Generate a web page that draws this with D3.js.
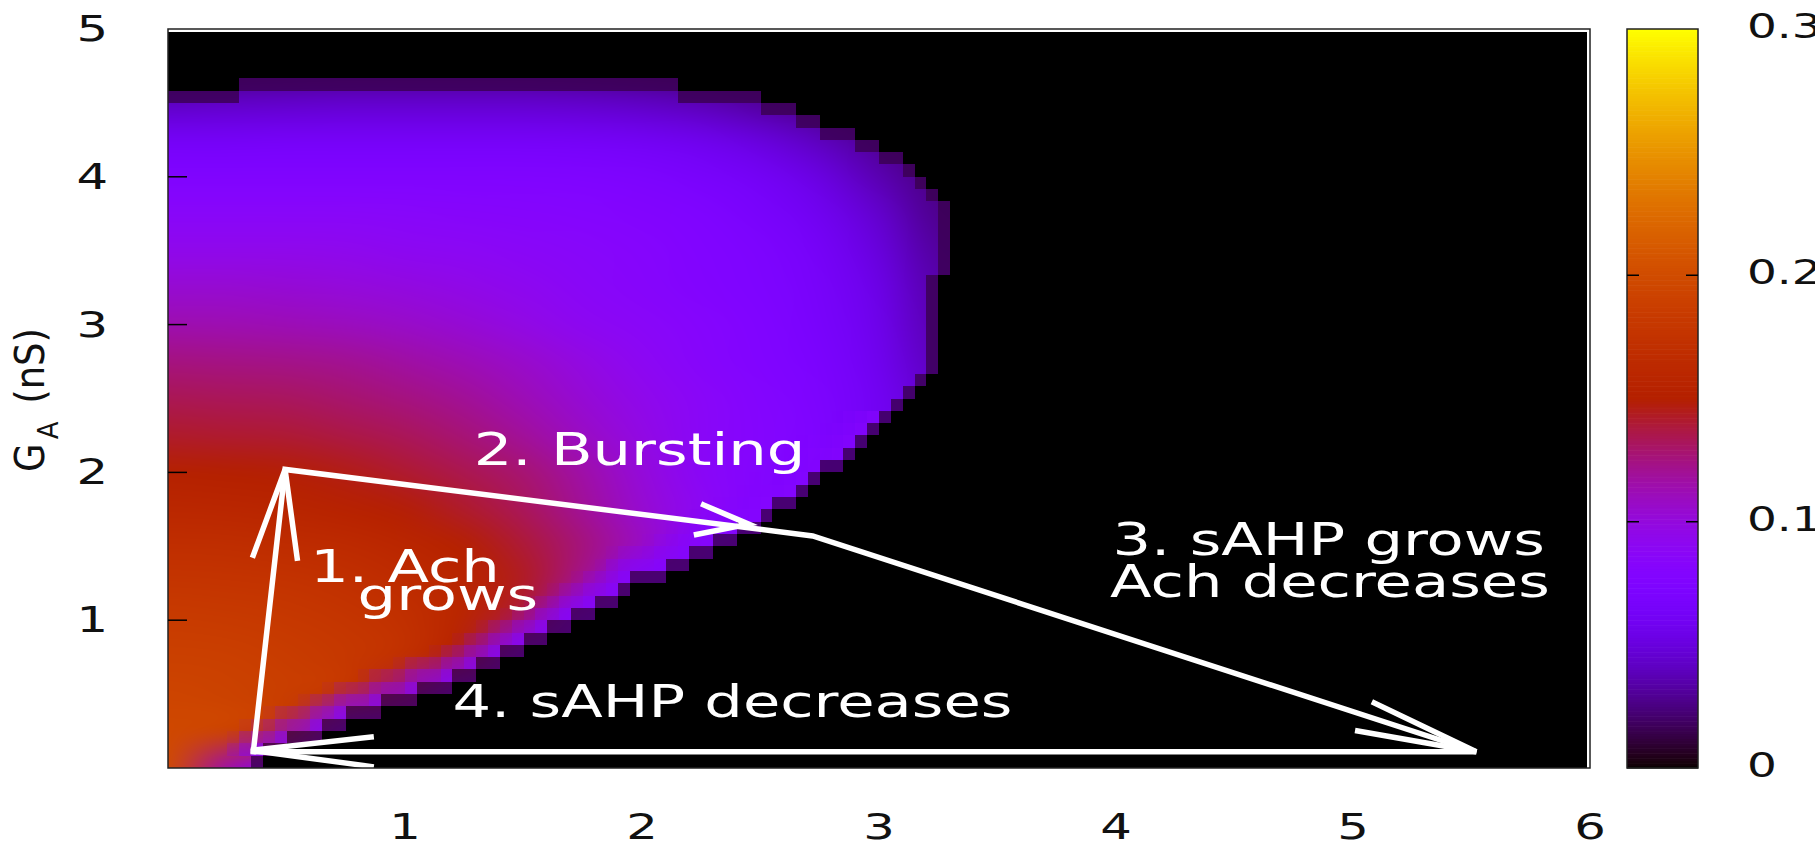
<!DOCTYPE html>
<html><head><meta charset="utf-8">
<script src="https://cdn.jsdelivr.net/npm/d3@7"></script>
<style>html,body{margin:0;padding:0;background:#fff;}svg{display:block;}</style>
</head><body>
<svg id="chart" width="1815" height="843"></svg>
<script>
// ---------- data ----------
const sahpTicks = [1, 2, 3, 4, 5, 6];
const gaTicks = [1, 2, 3, 4, 5];
const cbTicks = [0, 0.1, 0.2, 0.3];
const cbLabels = ["0", "0.1", "0.2", "0.3"];

// value grid nodes (sAHP conductance on x, G_A on y)
const gridSahp = [0, 0.25, 0.5, 0.75, 1, 1.25, 1.5, 1.75, 2, 2.25, 2.5, 2.75, 3, 3.25];
const gridGa = [0, 0.25, 0.5, 0.75, 1, 1.25, 1.5, 1.75, 2, 2.25, 2.5, 2.75, 3, 3.25, 3.5, 3.75, 4, 4.25, 4.5, 4.75];
// one row per gridGa value, one column per gridSahp value
const burstFreq = [
  [.200,.115,.080,.078,.078,.078,.078,.078,.078,.078,.078,.078,.078,.078],
  [.197,.193,.178,.085,.078,.078,.078,.078,.078,.078,.078,.078,.078,.078],
  [.193,.191,.187,.178,.135,.080,.078,.078,.078,.078,.078,.078,.078,.078],
  [.189,.188,.185,.181,.172,.145,.082,.078,.078,.078,.078,.078,.078,.078],
  [.184,.183,.181,.178,.172,.158,.135,.080,.078,.078,.078,.078,.078,.078],
  [.178,.177,.175,.172,.166,.157,.144,.120,.080,.078,.078,.078,.078,.078],
  [.170,.169,.167,.164,.159,.151,.140,.126,.108,.082,.078,.078,.078,.078],
  [.160,.159,.157,.154,.149,.142,.133,.120,.104,.089,.078,.074,.070,.065],
  [.151,.150,.149,.146,.141,.135,.128,.116,.101,.087,.079,.071,.062,.055],
  [.142,.141,.140,.137,.133,.127,.119,.108,.097,.087,.080,.073,.060,.050],
  [.134,.133,.132,.129,.125,.120,.112,.103,.094,.086,.079,.072,.060,.045],
  [.125,.124,.123,.121,.117,.112,.106,.098,.090,.083,.077,.070,.058,.040],
  [.114,.113,.112,.110,.107,.103,.097,.091,.086,.081,.075,.068,.056,.037],
  [.104,.104,.103,.101,.099,.096,.092,.087,.083,.078,.073,.066,.054,.035],
  [.094,.094,.094,.093,.091,.089,.087,.084,.081,.077,.072,.064,.050,.032],
  [.085,.085,.085,.085,.084,.083,.082,.080,.078,.074,.068,.059,.045,.028],
  [.076,.076,.076,.076,.076,.076,.075,.074,.072,.068,.062,.052,.037,.025],
  [.063,.063,.064,.064,.064,.064,.064,.063,.061,.057,.050,.040,.029,.020],
  [.042,.043,.044,.045,.045,.045,.045,.044,.042,.038,.032,.026,.020,.020],
  [.020,.022,.024,.025,.025,.025,.025,.024,.022,.020,.020,.020,.020,.020]
];
// outline of the non-zero (bursting) region
const edgeSahp = [-0.3, 0.32, 0.38, 0.52, 0.70, 0.92, 1.15, 1.36, 1.56, 1.72, 1.97, 2.22, 2.40, 2.58, 2.73, 2.88, 3.02, 3.12, 3.20, 3.27, 3.28, 3.18, 3.08, 2.98, 2.80, 2.67, 2.50, 2.08, 0.30, 0.28, -0.3];
const edgeGa   = [-0.3, -0.3, 0.02, 0.13, 0.24, 0.38, 0.52, 0.67, 0.84, 0.98, 1.20, 1.40, 1.55, 1.73, 1.92, 2.10, 2.32, 2.48, 2.62, 2.82, 3.85, 3.97, 4.15, 4.25, 4.36, 4.46, 4.55, 4.64, 4.67, 4.58, 4.58];
// value seen in the thin band just above the lower edge of the region (below G_A = 2.4)
const lowerBandValue = 0.08;
const lowerBandTop = 2.4;

// cycle drawn with white arrows
const loopSahp = [0.36, 0.494, 2.72, 5.52, 0.36];
const loopGa   = [0.11, 2.02, 1.57, 0.11, 0.11];
const headTipSahp = [0.494, 2.45, 5.52, 0.35];
const headTipGa   = [2.02, 1.65, 0.11, 0.12];
const barbASahp = [0.36, 2.26, 5.09, 0.857];
const barbAGa   = [1.44, 1.78, 0.44, 0.21];
const barbBSahp = [0.545, 2.23, 5.02, 0.857];
const barbBGa   = [1.42, 1.58, 0.25, 0.01];

const noteText = ["1. Ach", "grows", "2. Bursting", "3. sAHP grows", "Ach decreases", "4. sAHP decreases"];
const noteSahp = [0.60, 0.80, 1.29, 3.985, 3.975, 1.20];
const noteGa   = [1.26, 1.07, 2.053, 1.443, 1.159, 0.346];

// ---------- scales ----------
const W = 1815, H = 843;
const x = d3.scaleLinear().domain([0, 6]).range([168, 1590]);
const y = d3.scaleLinear().domain([0, 5]).range([768, 29]);
const cb = d3.scaleLinear().domain([0, 0.3]).range([768, 29]);
const pm3d = t => { t = Math.max(0, Math.min(1, t));
  return d3.rgb(255 * Math.sqrt(t), 255 * t * t * t, 255 * Math.max(0, Math.sin(2 * Math.PI * t))).toString(); };
const color = d3.scaleSequential(pm3d).domain([0, 0.3]);
const FONT = "DejaVu Sans, Liberation Sans, sans-serif";
const SX = 1.38;

const svg = d3.select("#chart");

// plot background
svg.append("rect").attr("x", x(0)).attr("y", y(5) + 3)
  .attr("width", x(6) - x(0) - 3).attr("height", y(0) - y(5) - 3).attr("fill", "#000");

// ---------- heat map (canvas -> image) ----------
const nx = gridSahp.length, ny = gridGa.length;
const small = document.createElement("canvas");
small.width = nx; small.height = ny;
const sctx = small.getContext("2d");
burstFreq.forEach((row, i) => row.forEach((v, j) => {
  sctx.fillStyle = color(v); sctx.fillRect(j, ny - 1 - i, 1, 1);
}));

// pixel mask of the region, at the raster resolution of the original image
const MW = 120, MH = 60;                       // raster cells over [0,6] x [0,5]
const mask = document.createElement("canvas"); mask.width = MW; mask.height = MH;
const mctx = mask.getContext("2d");
const mx = d3.scaleLinear().domain(x.domain()).range([0, MW]);
const my = d3.scaleLinear().domain(y.domain()).range([MH, 0]);
const edgePts = edgeSahp.map((s, i) => [s, edgeGa[i]]);
mctx.beginPath(); d3.line().x(d => mx(d[0])).y(d => my(d[1])).context(mctx)(edgePts); mctx.closePath();
mctx.fillStyle = "#fff"; mctx.fill();
const md = mctx.getImageData(0, 0, MW, MH);
const cellIn = [];
for (let r = 0; r < MH; r++) for (let c = 0; c < MW; c++) {
  const k = (r * MW + c) * 4; const on = md.data[k + 3] > 127;
  md.data[k] = md.data[k + 1] = md.data[k + 2] = 255; md.data[k + 3] = on ? 255 : 0;
  cellIn.push(on);
}
mctx.putImageData(md, 0, 0);
const isIn = (c, r) => (c < 0 || r < 0 || c >= MW || r >= MH) ? true : cellIn[r * MW + c];
// rim cells and violet band along the lower edge
const rim = document.createElement("canvas"); rim.width = MW; rim.height = MH;
const rctx = rim.getContext("2d");
const bandRow = my(lowerBandTop);
for (let r = 0; r < MH; r++) for (let c = 0; c < MW; c++) {
  if (!isIn(c, r)) continue;
  const edge = !isIn(c - 1, r) || !isIn(c + 1, r) || !isIn(c, r - 1) || !isIn(c, r + 1);
  if (edge) { rctx.globalAlpha = 0.8; rctx.fillStyle = color(0.015); rctx.fillRect(c, r, 1, 1); continue; }
  if (r + 0.5 < bandRow) continue;
  let d = 99;
  for (let dr = 1; dr <= 4; dr++) for (let dc = 0; dc <= 4; dc++) {
    if (!isIn(c + dc, r + dr)) d = Math.min(d, Math.hypot(dr, dc));
  }
  const a = Math.max(0, Math.min(1, (3.8 - d) / 2.6)) * 0.8;
  if (a > 0) { rctx.globalAlpha = a; rctx.fillStyle = color(lowerBandValue); rctx.fillRect(c, r, 1, 1); }
}

const big = document.createElement("canvas");
big.width = W; big.height = H;
const bctx = big.getContext("2d");
bctx.save();
bctx.beginPath();
bctx.rect(x(0), y(5) + 3, x(6) - x(0) - 3, y(0) - y(5) - 3);
bctx.clip();
bctx.imageSmoothingEnabled = true; bctx.imageSmoothingQuality = "high";
const dxs = gridSahp[1] - gridSahp[0], dgs = gridGa[1] - gridGa[0];
const ix0 = x(gridSahp[0] - dxs / 2), ix1 = x(gridSahp[nx - 1] + dxs / 2);
const iy0 = y(gridGa[ny - 1] + dgs / 2), iy1 = y(gridGa[0] - dgs / 2);
bctx.drawImage(small, ix0, iy0, ix1 - ix0, iy1 - iy0);
bctx.imageSmoothingEnabled = false;
bctx.globalCompositeOperation = "destination-in";
bctx.drawImage(mask, x(0), y(5), x(6) - x(0), y(0) - y(5));
bctx.globalCompositeOperation = "source-over";
bctx.drawImage(rim, x(0), y(5), x(6) - x(0), y(0) - y(5));
bctx.restore();
svg.append("image").attr("x", 0).attr("y", 0).attr("width", W).attr("height", H)
  .attr("href", big.toDataURL());

// ---------- arrows ----------
const line = d3.line().x(d => x(d[0])).y(d => y(d[1]));
const arrowG = svg.append("g").attr("fill", "none").attr("stroke", "#fff")
  .attr("stroke-width", 5.5).attr("stroke-linejoin", "miter").attr("stroke-linecap", "square");
arrowG.append("path").attr("d", line(loopSahp.map((s, i) => [s, loopGa[i]])));
headTipSahp.forEach((s, i) => {
  arrowG.append("path").attr("d", line([[barbASahp[i], barbAGa[i]], [s, headTipGa[i]], [barbBSahp[i], barbBGa[i]]]));
});

// ---------- annotations ----------
noteText.forEach((t, i) => {
  svg.append("text").attr("transform", `translate(${x(noteSahp[i])},${y(noteGa[i])}) scale(${SX},1)`)
    .attr("font-family", FONT).attr("font-size", 44).attr("fill", "#fff").text(t);
});

// ---------- frame & axes ----------
svg.append("rect").attr("x", x(0)).attr("y", y(5)).attr("width", x(6) - x(0)).attr("height", y(0) - y(5))
  .attr("fill", "none").attr("stroke", "#222").attr("stroke-width", 1.5);
svg.append("g").selectAll("line").data(gaTicks.slice(0, -1)).join("line")
  .attr("x1", x(0)).attr("x2", x(0) + 19).attr("y1", d => y(d)).attr("y2", d => y(d))
  .attr("stroke", "#000").attr("stroke-width", 1.5);
svg.append("g").selectAll("text").data(gaTicks).join("text")
  .attr("transform", d => `translate(108,${y(d) + 12}) scale(${SX},1)`)
  .attr("text-anchor", "end").attr("font-family", FONT).attr("font-size", 36).attr("fill", "#111").text(d => d);
svg.append("g").selectAll("text").data(sahpTicks).join("text")
  .attr("transform", d => `translate(${x(d)},${839}) scale(${SX},1)`)
  .attr("text-anchor", "middle").attr("font-family", FONT).attr("font-size", 36).attr("fill", "#111").text(d => d);

// y-axis title
const yt = svg.append("text").attr("transform", `translate(44,400) scale(1.1,1) rotate(-90)`)
  .attr("text-anchor", "middle").attr("font-family", FONT).attr("font-size", 37).attr("fill", "#111");
yt.append("tspan").text("G");
yt.append("tspan").attr("font-size", 26).attr("dx", 4).attr("dy", 13).text("A");
yt.append("tspan").attr("dx", 6).attr("dy", -13).text(" (nS)");

// ---------- colour bar ----------
const cbx0 = 1627, cbx1 = 1698;
const steps = d3.range(0, 300).map(i => i * 0.001);
svg.append("g").selectAll("rect").data(steps).join("rect")
  .attr("x", cbx0).attr("width", cbx1 - cbx0)
  .attr("y", d => cb(d + 0.001)).attr("height", d => cb(d) - cb(d + 0.001) + 0.6)
  .attr("fill", d => color(d + 0.0005));
svg.append("rect").attr("x", cbx0).attr("y", cb(0.3)).attr("width", cbx1 - cbx0).attr("height", cb(0) - cb(0.3))
  .attr("fill", "none").attr("stroke", "#222").attr("stroke-width", 1.5);
const cbIn = cbTicks.filter(v => v > 0 && v < 0.3);
svg.append("g").selectAll("path").data(cbIn).join("path")
  .attr("d", d => `M${cbx0},${cb(d)}h12M${cbx1},${cb(d)}h-12`)
  .attr("stroke", "#000").attr("stroke-width", 1.5);
svg.append("g").selectAll("text").data(cbTicks).join("text")
  .attr("transform", d => `translate(1747,${cb(d) + 9}) scale(${SX},1)`)
  .attr("font-family", FONT).attr("font-size", 34).attr("fill", "#111")
  .text((d, i) => cbLabels[i]);
</script>
</body></html>
